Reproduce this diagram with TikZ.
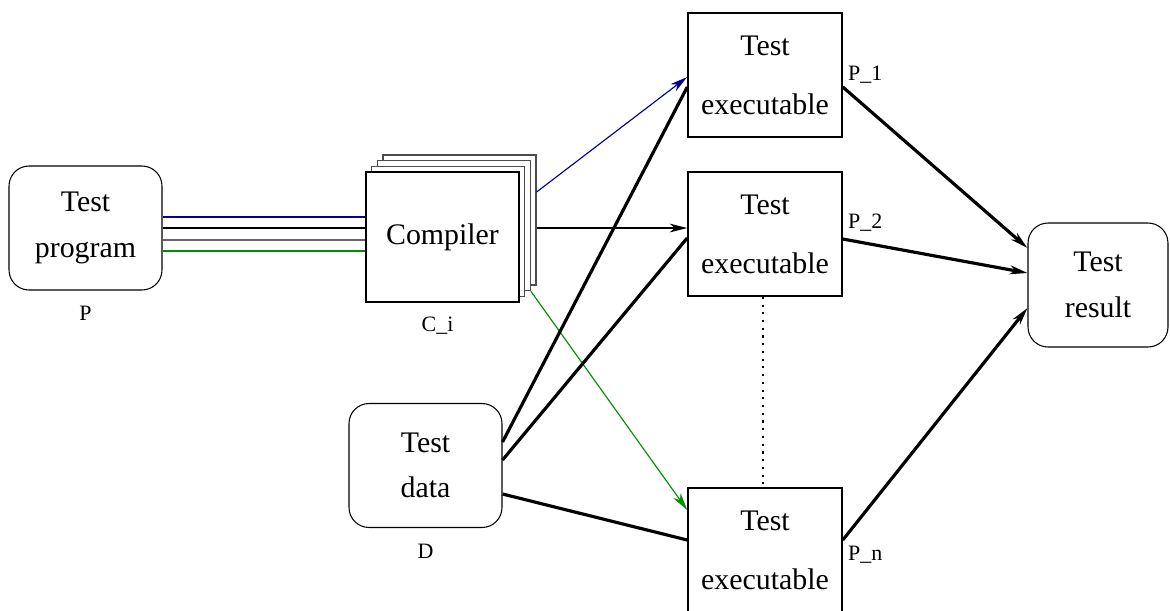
\documentclass[tikz,border=0pt]{standalone}
\usepackage{fontspec}
\setmainfont{Liberation Serif}
\usetikzlibrary{positioning,arrows.meta}
\definecolor{figblue}{rgb}{0,0,0.6}
\definecolor{figgreen}{rgb}{0,0.56,0}

\begin{document}
\begin{tikzpicture}[x=0.02cm,y=-0.02cm,
  rbox/.style={draw,line width=0.6pt,rounded corners=0.4cm,minimum width=3.06cm,minimum height=2.48cm,align=center,font=\fontsize{17}{26}\selectfont},
  ebox/.style={draw,line width=0.9pt,minimum width=3.08cm,minimum height=2.48cm,align=center,font=\fontsize{17}{33.5}\selectfont},
  cbox/.style={draw=black!70,fill=white,line width=0.7pt,minimum width=3.06cm,minimum height=2.6cm,font=\fontsize{17}{20}\selectfont},
  lbl/.style={inner sep=0pt,font=\fontsize{12.5}{14}\selectfont},
  wire/.style={line width=0.65pt},
  fat/.style={line width=1.8pt},
  arr/.style={-{Stealth[length=10pt,width=5pt,inset=3pt]}}]
\useasboundingbox (0,0) rectangle (1170,610);
\node[rbox] (prog) at (85.5,228) {Test\\program};
\node[rbox] (data) at (425.5,465.5) {Test\\data};
\node[rbox,minimum width=2.8cm] (result) at (1098,285) {Test\\result};
\node[ebox] (exec1) at (765,75) {Test\\executable};
\node[ebox] (exec2) at (765,234) {Test\\executable};
\node[ebox] (execn) at (765,550) {Test\\executable};
% compiler stack, back to front
\node[cbox] (comp3) at (459.5,220) {};
\node[cbox] (comp2) at (453.8,225.7) {};
\node[cbox] (comp1) at (448.2,231.3) {};
\node[cbox,draw=black] (comp) at (442.5,237) {Compiler};
\node[lbl] (plbl) at ([yshift=-0.46cm]prog.south) {P};
\node[lbl] (clbl) at ([xshift=-0.1cm,yshift=-0.46cm]comp.south) {C\_i};
\node[lbl] (dlbl) at ([yshift=-0.46cm]data.south) {D};
\node[lbl,anchor=west] (p1) at ([xshift=0.1cm]exec1.east) {P\_1};
\node[lbl,anchor=west] (p2) at ([xshift=0.1cm,yshift=0.22cm]exec2.east) {P\_2};
\node[lbl,anchor=west] (pn) at ([xshift=0.1cm,yshift=-0.1cm]execn.east) {P\_n};
% program into the compilers
\draw[wire,figblue] ([yshift=0.22cm]prog.east) coordinate (w1) -- (w1 -| comp.west);
\draw[wire] (prog.east) coordinate (w2) -- (w2 -| comp.west);
\draw[wire,black!60] ([yshift=-0.24cm]prog.east) coordinate (w3) -- (w3 -| comp.west);
\draw[wire,figgreen] ([yshift=-0.46cm]prog.east) coordinate (w4) -- (w4 -| comp.west);
% compilers to executables
\draw[wire,arr,figblue] ([yshift=0.56cm]comp3.east) -- ([yshift=-0.04cm]exec1.west);
\draw[wire,arr] ([yshift=-0.16cm]comp3.east) coordinate (c2) -- (c2 -| exec2.west);
\draw[wire,arr,figgreen] (comp2.south east) -- ([yshift=0.8cm]execn.west);
% test data
\draw[fat] ([yshift=0.47cm]data.east) -- ([yshift=-0.24cm]exec1.west);
\draw[fat] ([yshift=0.11cm]data.east) -- ([yshift=-0.08cm]exec2.west);
\draw[fat] ([yshift=-0.57cm]data.east) -- ([yshift=0.2cm]execn.west);
% results
\draw[fat,arr] ([yshift=-0.24cm]exec1.east) -- ([yshift=0.74cm]result.west);
\draw[fat,arr] ([yshift=-0.1cm]exec2.east) -- ([yshift=0.24cm]result.west);
\draw[fat,arr] ([yshift=0.2cm]execn.east) -- ([yshift=-0.46cm]result.west);
\draw[wire,dash pattern=on 1.2pt off 3.2pt] ([xshift=-0.04cm]exec2.south) -- ([xshift=-0.04cm]execn.north);
\end{tikzpicture}
\end{document}
